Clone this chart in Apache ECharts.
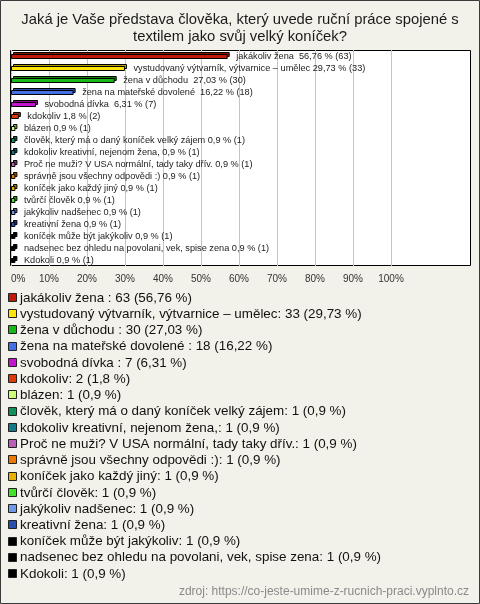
<!DOCTYPE html>
<html><head><meta charset="utf-8">
<script src="https://cdn.jsdelivr.net/npm/echarts@6/dist/echarts.min.js"></script>
<style>html,body{margin:0;padding:0;background:#f3f2ea}#c{width:480px;height:604px}</style>
</head><body><div id="c"></div>
<script>
const titleLines = ['Jaká je Vaše představa člověka, který uvede ruční práce spojené s', 'textilem jako svůj velký koníček?'];
const categories = [
  'jakákoliv žena ',
  'vystudovaný výtvarník, výtvarnice – umělec',
  'žena v důchodu ',
  'žena na mateřské dovolené ',
  'svobodná dívka ',
  'kdokoliv',
  'blázen',
  'člověk, který má o daný koníček velký zájem',
  'kdokoliv kreativní, nejenom žena,',
  'Proč ne muži? V USA normální, tady taky dřív.',
  'správně jsou všechny odpovědi :)',
  'koníček jako každý jiný',
  'tvůrčí člověk',
  'jakýkoliv nadšenec',
  'kreativní žena',
  'koníček může být jakýkoliv',
  'nadsenec bez ohledu na povolani, vek, spise zena',
  'Kdokoli'
];
const counts = [63, 33, 30, 18, 7, 2, 1, 1, 1, 1, 1, 1, 1, 1, 1, 1, 1, 1];
const percents = [56.76, 29.73, 27.03, 16.22, 6.31, 1.8, 0.9, 0.9, 0.9, 0.9, 0.9, 0.9, 0.9, 0.9, 0.9, 0.9, 0.9, 0.9];
const palette = ['#c01a0a', '#ffe40a', '#18b818', '#4470e8', '#c414d0', '#e03a08', '#ccff77', '#10905a', '#137a8c', '#b860b8', '#ec7a00', '#e8b000', '#44e02a', '#7098e8', '#2850b0', '#000000', '#000000', '#000000'];
const sourceText = 'zdroj: https://co-jeste-umime-z-rucnich-praci.vyplnto.cz';

const fmt = v => String(v).replace('.', ',');
const chart = echarts.init(document.getElementById('c'), null, {renderer: 'canvas'});

function darken(hex, f) {
  const n = parseInt(hex.slice(1), 16);
  const r = Math.round(((n >> 16) & 255) * f), g = Math.round(((n >> 8) & 255) * f), b = Math.round((n & 255) * f);
  return 'rgb(' + r + ',' + g + ',' + b + ')';
}

const graphics = [
  {type: 'rect', z: -10, shape: {x: 0.5, y: 0.5, width: 479, height: 603}, style: {fill: '#f3f2ea', stroke: '#3a3a3a', lineWidth: 1}, silent: true},
  {type: 'rect', z: -5, shape: {x: 10.5, y: 50.5, width: 460, height: 215}, style: {fill: '#ffffff', stroke: '#000', lineWidth: 1}, silent: true},
];
titleLines.forEach((t, i) => graphics.push({type: 'text', x: 240, y: 20 + i * 17, z: 5, style: {text: t, fill: '#1a1a1a', font: '14.8px "Liberation Sans", Arial', align: 'center', verticalAlign: 'middle'}}));
const legY0 = 298, legStep = (574 - 298) / 17;
categories.forEach((name, i) => {
  const y = legY0 + i * legStep;
  graphics.push({type: 'rect', z: 5, shape: {x: 8.5, y: Math.round(y) - 4.5, width: 8, height: 8}, style: {fill: palette[i], stroke: '#222', lineWidth: 1}});
  graphics.push({type: 'text', z: 5, x: 20, y: y, style: {text: name + ': ' + counts[i] + ' (' + fmt(percents[i]) + ' %)', fill: '#111', font: '13.4px "Liberation Sans", Arial', verticalAlign: 'middle'}});
});
graphics.push({type: 'text', z: 5, x: 469, y: 592, style: {text: sourceText, fill: '#8a8a8a', font: '12px "Liberation Sans", Arial', align: 'right', verticalAlign: 'middle'}});

chart.setOption({
  animation: false,
  backgroundColor: '#f3f2ea',
  grid: {left: 11, right: 89, top: 50, bottom: 338},
  xAxis: {
    type: 'value', min: 0, max: 100, interval: 10,
    axisLine: {show: false}, axisTick: {show: false},
    splitLine: {show: true, lineStyle: {color: '#c4c4c4', width: 1}},
    axisLabel: {formatter: '{value}%', fontSize: 10, color: '#333', margin: 8, fontFamily: 'Liberation Sans', alignMinLabel: 'left'}
  },
  yAxis: {type: 'category', data: categories, inverse: true, show: false},
  graphic: graphics,
  series: [{
    type: 'custom',
    clip: false,
    data: percents.map((v, i) => [v, i]),
    encode: {x: 0, y: 1},
    renderItem: function (params, api) {
      const v = api.value(0), idx = api.value(1);
      const s = api.coord([0, idx]), e = api.coord([v, idx]);
      const w = Math.max(e[0] - s[0], 1);
      const h = 4, d = 2;
      const y = Math.round(s[1]) - 1.5;
      const x = Math.round(s[0]) + 0.5;
      const col = palette[idx];
      return {type: 'group', children: [
        {type: 'rect', shape: {x: x + d, y: y - d, width: w, height: h}, style: {fill: darken(col, 0.7), stroke: '#000', lineWidth: 1}},
        {type: 'rect', shape: {x: x, y: y, width: w, height: h}, style: {fill: col, stroke: '#000', lineWidth: 1}},
        {type: 'text', x: x + w + d + 7, y: s[1], style: {text: categories[idx] + ' ' + fmt(v) + ' % (' + counts[idx] + ')', fill: '#222', font: '9.2px "Liberation Sans", Arial', verticalAlign: 'middle'}}
      ]};
    }
  }]
});
</script></body></html>
